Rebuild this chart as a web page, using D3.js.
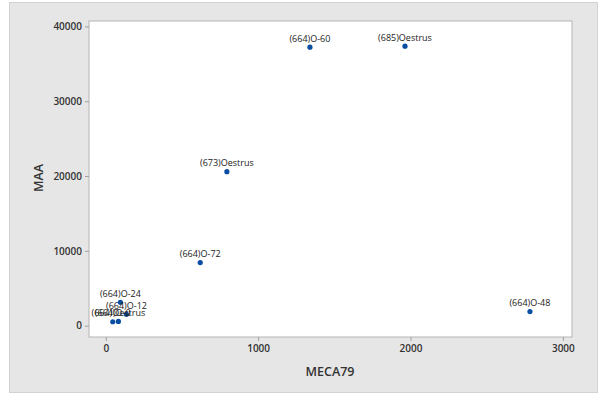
<!DOCTYPE html>
<html><head><meta charset="utf-8">
<script src="https://cdn.jsdelivr.net/npm/d3@7"></script>
<style>body{margin:0;background:#fff;}svg{display:block;}</style>
</head><body>
<script>
const labels = ["(664)O-0","(664)Oestrus","(664)O-12","(664)O-24","(664)O-72","(673)Oestrus","(664)O-60","(685)Oestrus","(664)O-48"];
const meca79 = [46, 83, 136, 96, 620, 795, 1340, 1964, 2784];
const maa = [520, 560, 1520, 3130, 8430, 20580, 37220, 37350, 1880];
const xTicks = [0, 1000, 2000, 3000];
const yTicks = [0, 10000, 20000, 30000, 40000];

const W = 599, H = 399;
const svg = d3.select("body").append("svg").attr("width", W).attr("height", H);
svg.append("rect").attr("x", 9.5).attr("y", 2.5).attr("width", 588).attr("height", 390)
  .attr("fill", "#e6e6e6").attr("stroke", "#d2d2d2");

const L = 89, R = 572, T = 21, B = 337;
const x = d3.scaleLinear().domain([-110, 3060]).range([L, R]);
const y = d3.scaleLinear().domain([-1515, 40720]).range([B, T]);

svg.append("rect").attr("x", L).attr("y", T).attr("width", R - L).attr("height", B - T)
  .attr("fill", "#fff").attr("stroke", "#b4b4b4");

const font = "'Open Sans', 'Noto Sans', sans-serif";
const gx = svg.append("g").attr("transform", `translate(0,${B})`)
  .call(d3.axisBottom(x).tickValues(xTicks).tickSize(4).tickPadding(4).tickFormat(d3.format("d")));
const gy = svg.append("g").attr("transform", `translate(${L},0)`)
  .call(d3.axisLeft(y).tickValues(yTicks).tickSize(4).tickPadding(3).tickFormat(d3.format("d")));
[gx, gy].forEach(g => {
  g.select(".domain").remove();
  g.selectAll(".tick line").attr("stroke", "#a0a0a0");
  g.selectAll(".tick text").attr("fill", "#333").style("font-family", font)
    .style("font-size", "10px").style("font-weight", "600");
});

svg.append("text").attr("x", 330).attr("y", 376).attr("text-anchor", "middle")
  .style("font-family", font).style("font-size", "12.5px").style("font-weight", "600").attr("fill", "#333")
  .text("MECA79");
svg.append("text").attr("transform", "translate(43,178) rotate(-90)").attr("text-anchor", "middle")
  .style("font-family", font).style("font-size", "12.5px").style("font-weight", "600").attr("fill", "#333")
  .text("MAA");

const data = labels.map((l, i) => ({l, x: meca79[i], y: maa[i]}));
const g = svg.append("g");
g.selectAll("circle").data(data).join("circle")
  .attr("cx", d => x(d.x)).attr("cy", d => y(d.y)).attr("r", 2.6).attr("fill", "#0a4ea3");
g.selectAll("text").data(data).join("text")
  .attr("x", d => x(d.x)).attr("y", d => y(d.y) - 5.5).attr("text-anchor", "middle")
  .style("font-family", font).style("font-size", "9px").attr("fill", "#222")
  .text(d => d.l);
</script>
</body></html>
